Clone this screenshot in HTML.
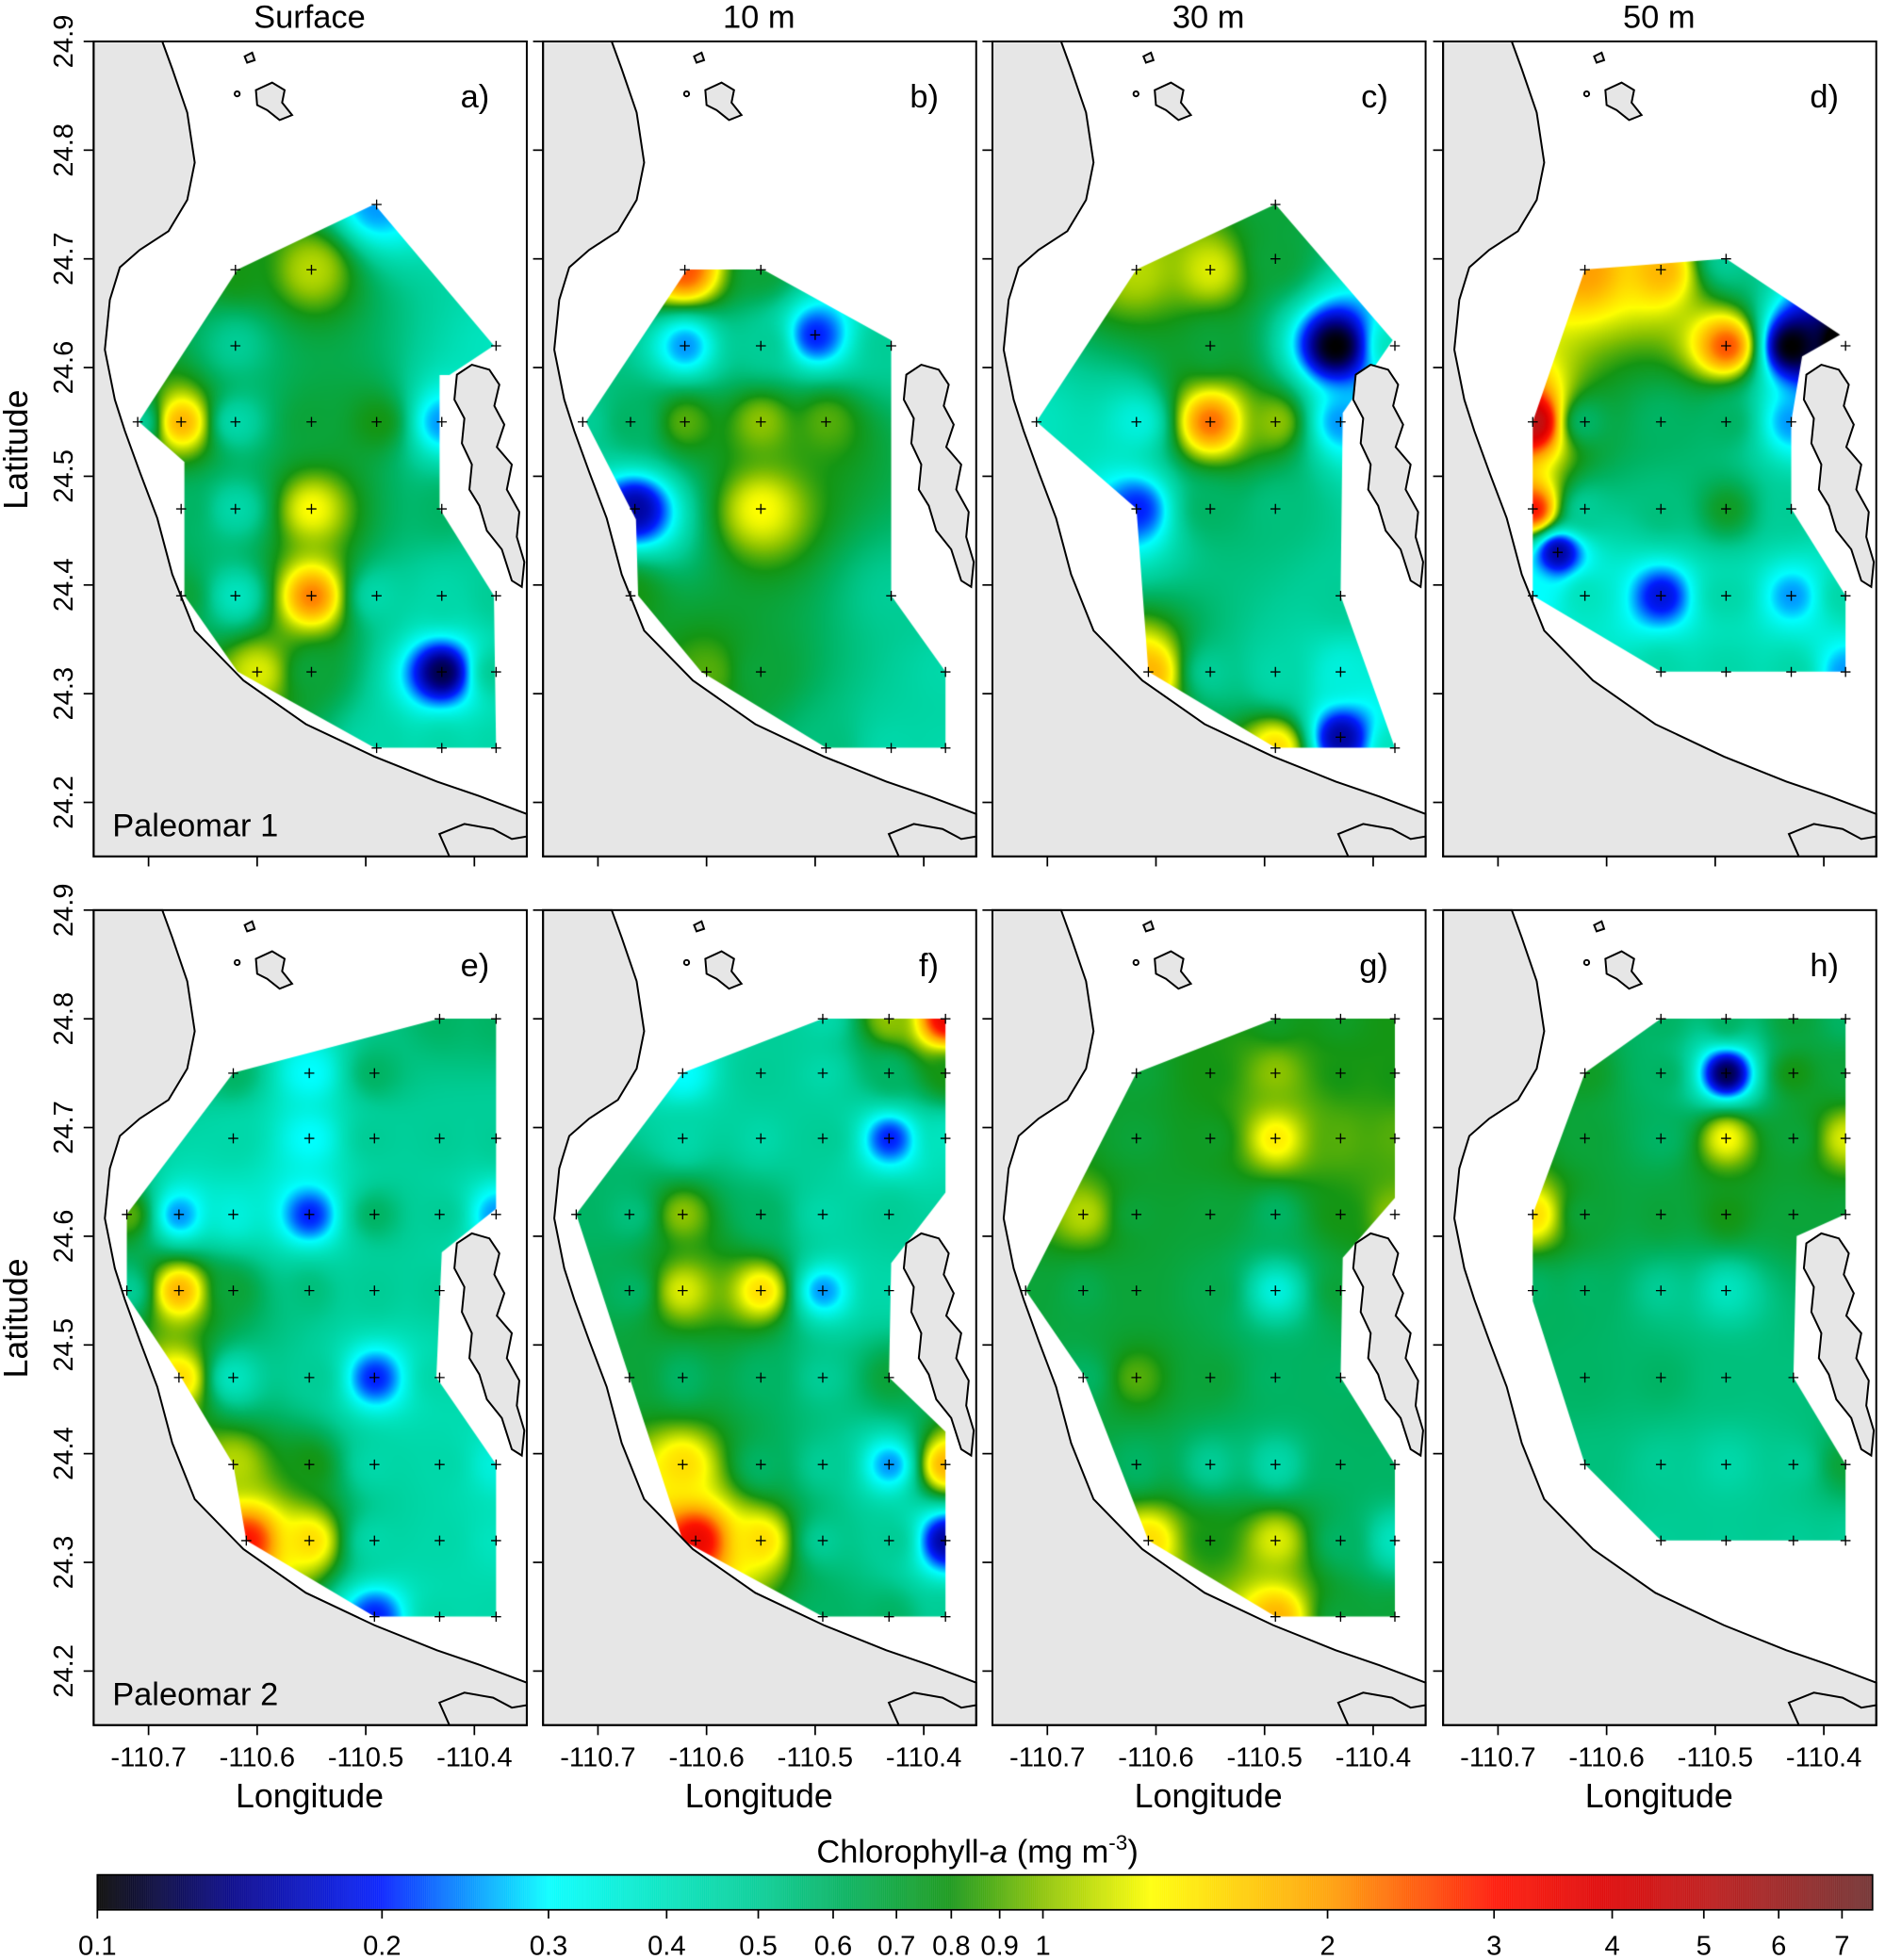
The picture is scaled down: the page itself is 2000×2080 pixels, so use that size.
<!DOCTYPE html>
<html><head><meta charset="utf-8"><style>
html,body{margin:0;padding:0;background:#fff;}
#wrap{position:relative;width:2000px;height:2080px;overflow:hidden;}
canvas,svg{position:absolute;left:0;top:0;}
text{font-family:"Liberation Sans",sans-serif;fill:#000;}
</style></head><body>
<div id="wrap">
<canvas id="cv" width="2000" height="2080"></canvas>
<svg id="sv" width="2000" height="2080" viewBox="0 0 1510 1570"></svg>
</div>
<script>
// ---- data ----
const panelLetters = ["a)","b)","c)","d)","e)","f)","g)","h)"];
const depthTitles = ["Surface","10 m","30 m","50 m"];
const cruiseLabels = ["Paleomar 1","Paleomar 2"];
const latTicks = [24.9,24.8,24.7,24.6,24.5,24.4,24.3,24.2];
const lonTicks = [-110.7,-110.6,-110.5,-110.4];
const cbTicks = [0.1,0.2,0.3,0.4,0.5,0.6,0.7,0.8,0.9,1,2,3,4,5,6,7];
const cbMin = 0.1, cbMax = 7.54;

const stA = [[-110.49,24.75,0.25],[-110.62,24.69,0.8],[-110.55,24.69,1.1],[-110.62,24.62,0.5],[-110.38,24.62,0.4],
[-110.71,24.55,0.5],[-110.67,24.55,1.8],[-110.62,24.55,0.45],[-110.55,24.55,0.7],[-110.49,24.55,0.8],[-110.43,24.55,0.25],
[-110.67,24.47,0.6],[-110.62,24.47,0.45],[-110.55,24.47,1.3],[-110.43,24.47,0.6],
[-110.67,24.39,0.7],[-110.62,24.39,0.4],[-110.55,24.39,2.2],[-110.49,24.39,0.45],[-110.43,24.39,0.45],[-110.38,24.39,0.5],
[-110.6,24.32,1.2],[-110.55,24.32,0.7],[-110.43,24.32,0.12],[-110.38,24.32,0.5],
[-110.49,24.25,0.45],[-110.43,24.25,0.45],[-110.38,24.25,0.45]];
const stB = [[-110.62,24.69,2.5],[-110.55,24.69,0.7],[-110.62,24.62,0.25],[-110.55,24.62,0.5],[-110.50,24.63,0.2],[-110.43,24.62,0.5],
[-110.714,24.55,0.5],[-110.67,24.55,0.6],[-110.62,24.55,0.9],[-110.55,24.55,1.0],[-110.49,24.55,0.9],
[-110.666,24.47,0.15],[-110.55,24.47,1.3],[-110.43,24.39,0.5],[-110.67,24.39,0.8],[-110.6,24.32,0.9],[-110.38,24.32,0.45],
[-110.43,24.25,0.45],[-110.38,24.25,0.45],[-110.55,24.32,0.7],[-110.49,24.25,0.55]];
const stC = [[-110.49,24.75,0.7],[-110.618,24.69,1.1],[-110.55,24.69,1.2],[-110.49,24.70,0.7],[-110.55,24.62,0.7],[-110.435,24.62,0.1],[-110.38,24.62,0.4],
[-110.71,24.55,0.4],[-110.618,24.55,0.35],[-110.55,24.55,2.3],[-110.49,24.55,1.0],[-110.43,24.55,0.25],
[-110.618,24.47,0.2],[-110.55,24.47,0.6],[-110.49,24.47,0.55],[-110.43,24.39,0.5],
[-110.607,24.32,1.8],[-110.55,24.32,0.5],[-110.49,24.32,0.45],[-110.43,24.32,0.35],
[-110.49,24.25,1.5],[-110.43,24.26,0.15],[-110.38,24.25,0.4]];
const stD = [[-110.62,24.69,2.0],[-110.55,24.69,1.8],[-110.49,24.70,0.5],[-110.49,24.62,2.5],[-110.43,24.62,0.1],[-110.38,24.62,0.08],
[-110.668,24.55,5.0],[-110.62,24.55,0.6],[-110.55,24.55,0.6],[-110.49,24.55,0.6],[-110.43,24.55,0.25],
[-110.668,24.47,3],[-110.62,24.47,0.5],[-110.55,24.47,0.55],[-110.49,24.47,0.75],[-110.43,24.47,0.5],
[-110.668,24.39,0.3],[-110.645,24.43,0.15],[-110.62,24.39,0.4],[-110.55,24.39,0.18],[-110.49,24.39,0.45],[-110.43,24.39,0.25],[-110.38,24.39,0.45],
[-110.55,24.32,0.45],[-110.49,24.32,0.45],[-110.43,24.32,0.45],[-110.38,24.32,0.25]];
const stE = [[-110.432,24.80,0.6],[-110.38,24.80,0.6],
[-110.622,24.75,0.6],[-110.552,24.75,0.3],[-110.492,24.75,0.6],
[-110.622,24.69,0.45],[-110.552,24.69,0.3],[-110.492,24.69,0.5],[-110.432,24.69,0.5],[-110.38,24.69,0.5],
[-110.72,24.62,0.9],[-110.672,24.62,0.25],[-110.622,24.62,0.35],[-110.552,24.62,0.2],[-110.492,24.62,0.6],[-110.432,24.62,0.5],[-110.38,24.62,0.25],
[-110.72,24.55,0.5],[-110.672,24.55,1.8],[-110.622,24.55,0.7],[-110.552,24.55,0.55],[-110.492,24.55,0.5],[-110.432,24.55,0.5],
[-110.672,24.47,1.5],[-110.622,24.47,0.4],[-110.552,24.47,0.5],[-110.492,24.47,0.2],[-110.432,24.47,0.45],
[-110.622,24.39,1.1],[-110.552,24.39,0.8],[-110.492,24.39,0.45],[-110.432,24.39,0.45],[-110.38,24.39,0.35],
[-110.61,24.32,3],[-110.552,24.32,1.5],[-110.492,24.32,0.45],[-110.432,24.32,0.45],[-110.38,24.32,0.4],
[-110.492,24.25,0.2],[-110.432,24.25,0.45],[-110.38,24.25,0.45]];
const stF = [[-110.493,24.80,0.45],[-110.432,24.80,1.0],[-110.38,24.80,3.5],
[-110.622,24.75,0.3],[-110.55,24.75,0.5],[-110.493,24.75,0.45],[-110.432,24.75,0.6],[-110.38,24.75,0.8],
[-110.622,24.69,0.45],[-110.55,24.69,0.45],[-110.493,24.69,0.5],[-110.432,24.69,0.2],[-110.38,24.69,0.4],
[-110.72,24.62,0.6],[-110.671,24.62,0.55],[-110.622,24.62,1.0],[-110.55,24.62,0.6],[-110.493,24.62,0.45],[-110.432,24.62,0.5],
[-110.671,24.55,0.6],[-110.622,24.55,1.2],[-110.55,24.55,1.5],[-110.493,24.55,0.25],[-110.432,24.55,0.45],
[-110.671,24.47,0.7],[-110.622,24.47,0.6],[-110.55,24.47,0.6],[-110.493,24.47,0.5],[-110.432,24.47,0.7],
[-110.622,24.39,1.5],[-110.55,24.39,0.6],[-110.493,24.39,0.5],[-110.432,24.39,0.25],[-110.38,24.39,1.8],
[-110.61,24.32,3.5],[-110.55,24.32,1.5],[-110.493,24.32,0.5],[-110.432,24.32,0.5],[-110.38,24.32,0.15],
[-110.493,24.25,0.6],[-110.432,24.25,0.6],[-110.38,24.25,0.5]];
const stG = [[-110.49,24.80,0.75],[-110.43,24.80,0.75],[-110.38,24.80,0.8],
[-110.618,24.75,0.7],[-110.55,24.75,0.8],[-110.49,24.75,1.0],[-110.43,24.75,0.8],[-110.38,24.75,0.8],
[-110.618,24.69,0.7],[-110.55,24.69,0.75],[-110.49,24.69,1.4],[-110.43,24.69,0.9],[-110.38,24.69,0.9],
[-110.667,24.62,1.1],[-110.618,24.62,0.7],[-110.55,24.62,0.7],[-110.49,24.62,0.6],[-110.43,24.62,0.8],[-110.38,24.62,1.0],
[-110.72,24.55,0.7],[-110.667,24.55,0.65],[-110.618,24.55,0.7],[-110.55,24.55,0.65],[-110.49,24.55,0.35],[-110.43,24.55,0.7],
[-110.667,24.47,0.6],[-110.618,24.47,0.9],[-110.55,24.47,0.7],[-110.49,24.47,0.6],[-110.43,24.47,0.6],
[-110.618,24.39,0.6],[-110.55,24.39,0.5],[-110.49,24.39,0.45],[-110.43,24.39,0.6],[-110.38,24.39,0.6],
[-110.607,24.32,1.5],[-110.55,24.32,0.8],[-110.49,24.32,1.2],[-110.43,24.32,0.6],[-110.38,24.32,0.4],
[-110.49,24.25,1.8],[-110.43,24.25,0.7],[-110.38,24.25,0.7]];
const stH = [[-110.55,24.80,0.6],[-110.49,24.80,0.6],[-110.428,24.80,0.7],[-110.38,24.80,0.6],
[-110.62,24.75,0.75],[-110.55,24.75,0.6],[-110.49,24.75,0.12],[-110.428,24.75,0.8],[-110.38,24.75,0.7],
[-110.62,24.69,0.7],[-110.55,24.69,0.6],[-110.49,24.69,1.3],[-110.428,24.69,0.7],[-110.38,24.69,1.2],
[-110.668,24.62,1.5],[-110.62,24.62,0.7],[-110.55,24.62,0.7],[-110.49,24.62,0.8],[-110.428,24.62,0.7],[-110.38,24.62,0.7],
[-110.668,24.55,0.6],[-110.62,24.55,0.6],[-110.55,24.55,0.5],[-110.49,24.55,0.4],
[-110.62,24.47,0.6],[-110.55,24.47,0.6],[-110.49,24.47,0.55],[-110.428,24.47,0.55],
[-110.62,24.39,0.55],[-110.55,24.39,0.5],[-110.49,24.39,0.45],[-110.428,24.39,0.5],[-110.38,24.39,0.7],
[-110.55,24.32,0.5],[-110.49,24.32,0.5],[-110.428,24.32,0.5],[-110.38,24.32,0.5]];
const stations = [stA,stB,stC,stD,stE,stF,stG,stH];

const polys = [
[[-110.492,24.75],[-110.382,24.62],[-110.423,24.593],[-110.432,24.593],[-110.432,24.47],[-110.382,24.39],[-110.38,24.25],[-110.492,24.25],[-110.618,24.32],[-110.667,24.39],[-110.667,24.513],[-110.709,24.55],[-110.618,24.69]],
[[-110.618,24.69],[-110.548,24.69],[-110.43,24.625],[-110.43,24.39],[-110.38,24.32],[-110.38,24.25],[-110.49,24.25],[-110.605,24.32],[-110.663,24.39],[-110.665,24.46],[-110.711,24.55]],
[[-110.49,24.75],[-110.382,24.625],[-110.428,24.558],[-110.43,24.39],[-110.38,24.25],[-110.49,24.25],[-110.607,24.32],[-110.618,24.47],[-110.71,24.55],[-110.618,24.69]],
[[-110.62,24.69],[-110.49,24.70],[-110.385,24.63],[-110.42,24.61],[-110.43,24.55],[-110.43,24.47],[-110.38,24.39],[-110.38,24.32],[-110.55,24.32],[-110.668,24.39],[-110.668,24.55]],
[[-110.432,24.80],[-110.38,24.80],[-110.38,24.625],[-110.43,24.585],[-110.435,24.47],[-110.38,24.39],[-110.38,24.25],[-110.492,24.25],[-110.61,24.32],[-110.622,24.39],[-110.67,24.47],[-110.72,24.545],[-110.72,24.62],[-110.622,24.75]],
[[-110.493,24.80],[-110.38,24.80],[-110.38,24.64],[-110.43,24.575],[-110.432,24.47],[-110.38,24.42],[-110.38,24.25],[-110.493,24.25],[-110.622,24.32],[-110.72,24.62],[-110.622,24.75]],
[[-110.49,24.80],[-110.38,24.80],[-110.38,24.635],[-110.428,24.58],[-110.43,24.47],[-110.38,24.39],[-110.38,24.25],[-110.49,24.25],[-110.607,24.32],[-110.665,24.47],[-110.72,24.55],[-110.618,24.75]],
[[-110.62,24.75],[-110.55,24.80],[-110.38,24.80],[-110.38,24.62],[-110.425,24.60],[-110.428,24.47],[-110.38,24.39],[-110.38,24.32],[-110.55,24.32],[-110.62,24.39],[-110.668,24.54],[-110.668,24.62]]
];

// ---- geometry ----
const S = 2000/1510;
const DX = [0,360,720,1081], DY = [0,696];
function xOf(lon,dx){return 119+(lon+110.7)*870+dx;}
function yOf(lat,dy){return 33+(24.9-lat)*871+dy;}

const cStops=[[0.1,[0,0,0]],[0.14,[0,0,140]],[0.2,[0,30,255]],[0.3,[0,255,255]],[0.4,[0,228,190]],[0.5,[0,205,150]],[0.6,[0,180,100]],[0.8,[20,150,20]],[1.0,[140,195,0]],[1.3,[255,255,0]],[2,[255,160,0]],[3,[255,20,0]],[4,[220,0,0]],[5,[190,20,20]],[7.54,[110,45,45]]];
function cmap(v){
  const l=Math.log10(Math.max(cbMin,Math.min(cbMax,v)));
  for(let i=1;i<cStops.length;i++){
    const a=Math.log10(cStops[i-1][0]),b=Math.log10(cStops[i][0]);
    if(l<=b){const t=(l-a)/(b-a);const c0=cStops[i-1][1],c1=cStops[i][1];
      return [c0[0]+(c1[0]-c0[0])*t,c0[1]+(c1[1]-c0[1])*t,c0[2]+(c1[2]-c0[2])*t];}
  }
  return cStops[cStops.length-1][1];
}

const cv=document.getElementById('cv'),ctx=cv.getContext('2d');
ctx.setTransform(S,0,0,S,0,0);
for(let p=0;p<8;p++){
  const dx=DX[p%4],dy=DY[Math.floor(p/4)];
  const st=stations[p];
  const W=348,H=654,off=document.createElement('canvas');off.width=W;off.height=H;
  const oc=off.getContext('2d'),img=oc.createImageData(W,H);
  const pts=st.map(s=>[xOf(s[0],0)-75,yOf(s[1],0)-33,Math.log10(s[2])]);
  for(let j=0;j<H;j++)for(let i=0;i<W;i++){
    let sw=0,sv=0,hit=-1;
    for(let k=0;k<pts.length;k++){const ddx=i-pts[k][0],ddy=j-pts[k][1];const d2=ddx*ddx+ddy*ddy;
      if(d2<0.5){hit=k;break;}const w=1/Math.pow(d2,1.25);sw+=w;sv+=w*pts[k][2];}
    const lv=hit>=0?pts[hit][2]:sv/sw;const c=cmap(Math.pow(10,lv));const q=(j*W+i)*4;
    img.data[q]=c[0];img.data[q+1]=c[1];img.data[q+2]=c[2];img.data[q+3]=255;
  }
  oc.putImageData(img,0,0);
  ctx.save();ctx.beginPath();
  polys[p].forEach((pt,i)=>{const x=xOf(pt[0],dx),y=yOf(pt[1],dy);i?ctx.lineTo(x,y):ctx.moveTo(x,y);});
  ctx.closePath();ctx.clip();ctx.drawImage(off,75+dx,33+dy);ctx.restore();
}
// colorbar
for(let x=78;x<1500;x+=0.5){const v=Math.pow(10,Math.log10(cbMin)+(x-78)/(1500-78)*Math.log10(cbMax/cbMin));
  const c=cmap(v);ctx.fillStyle=`rgb(${c[0]|0},${c[1]|0},${c[2]|0})`;ctx.fillRect(x,1502,0.7,28);}

// ---- svg ----
const NS='http://www.w3.org/2000/svg',sv=document.getElementById('sv');
function mk(tag,attrs,parent,txt){const e=document.createElementNS(NS,tag);for(const k in attrs)e.setAttribute(k,attrs[k]);if(txt!==undefined)e.textContent=txt;(parent||sv).appendChild(e);return e;}
const coast="M130,33 L138,55 L150,90 L156,130 L150,160 L135,185 L112,200 L96,214 L88,240 L84,280 L92,320 L100,345 L112,378 L126,415 L138,460 L156,505 L195,545 L245,580 L300,606 L350,626 L385,638 L422,652 L422,686 L75,686 L75,33 Z";
const pen="M366,300 L378,292 L392,296 L400,308 L396,325 L404,340 L398,358 L410,372 L406,392 L416,410 L414,430 L420,450 L418,470 L410,465 L402,440 L390,425 L384,405 L376,392 L378,372 L370,355 L372,335 L364,320 Z";
const isl1="M205,72 L218,66 L228,72 L226,82 L234,92 L224,96 L214,88 L206,84 Z";
const isl2="M196,45 L202,42 L204,48 L198,50 Z";
const isl3="M352,668 L372,660 L395,664 L410,672 L422,670 L422,686 L360,686 Z";
for(let p=0;p<8;p++){
  const dx=DX[p%4],dy=DY[Math.floor(p/4)];
  const g=mk('g',{transform:`translate(${dx},${dy})`});
  
  
  const land=mk('g',{fill:'#e6e6e6',stroke:'#000','stroke-width':1.5},g);
  
  
  [coast,pen,isl1,isl2,isl3].forEach(d=>mk('path',{d},land));
  mk('ellipse',{cx:190,cy:75,rx:2,ry:2,fill:'#fff',stroke:'#000'},land);
  const cr=mk('g',{stroke:'#000','stroke-width':1},g);
  
  
  stations[p].forEach(s=>{const x=xOf(s[0],0),y=yOf(s[1],0);mk('path',{d:`M${x-4},${y}h8M${x},${y-4}v8`},cr);});
  const fr=mk('rect',{x:75,y:33,width:347,height:653,fill:'none',stroke:'#000','stroke-width':1.5},g);
  
  
  latTicks.forEach(l=>mk('line',{x1:67,x2:75,y1:yOf(l,0),y2:yOf(l,0),stroke:'#000','stroke-width':1.3},g));
  lonTicks.forEach(l=>mk('line',{x1:xOf(l,0),x2:xOf(l,0),y1:686,y2:694,stroke:'#000','stroke-width':1.3},g));
  const lt=mk('text',{x:392,y:86,'font-size':26,'text-anchor':'end'},g,panelLetters[p]);
  
  
  if(p%4===0){
    const cl=mk('text',{x:90,y:670,'font-size':26},g,cruiseLabels[p/4]);
    
    
    latTicks.forEach(l=>{const y=yOf(l,0);const t=mk('text',{x:58,y:y,'font-size':22,'text-anchor':'middle',transform:`rotate(-90 58 ${y})`},g,l.toFixed(1));
      
      });
    const yl=mk('text',{x:22,y:360,'font-size':27,'text-anchor':'middle',transform:'rotate(-90 22 360)'},g,'Latitude');
    
    
  }
  if(p<4){const t=mk('text',{x:248,y:22,'font-size':26,'text-anchor':'middle'},g,depthTitles[p]);
    
    }
  else{
    lonTicks.forEach(l=>{const t=mk('text',{x:xOf(l,0),y:719,'font-size':22,'text-anchor':'middle'},g,l.toFixed(1));
      
      });
    const xl=mk('text',{x:248,y:752,'font-size':27,'text-anchor':'middle'},g,'Longitude');
    
    
  }
}
const cb=mk('g',{});


mk('rect',{x:78,y:1502,width:1422,height:28,fill:'none',stroke:'#000','stroke-width':1.3},cb);
const ct=mk('text',{x:783,y:1492,'font-size':26,'text-anchor':'middle'},cb);


ct.innerHTML='Chlorophyll-<tspan font-style="italic">a</tspan> (mg m<tspan dy="-10" font-size="17">-3</tspan><tspan dy="10">)</tspan>';
cbTicks.forEach(v=>{const x=78+Math.log10(v/cbMin)/Math.log10(cbMax/cbMin)*1422;
  mk('line',{x1:x,x2:x,y1:1530,y2:1537,stroke:'#000','stroke-width':1.3},cb);
  const t=mk('text',{x:x,y:1566,'font-size':22,'text-anchor':'middle'},cb,String(v));
  
  });
</script>
</body></html>
